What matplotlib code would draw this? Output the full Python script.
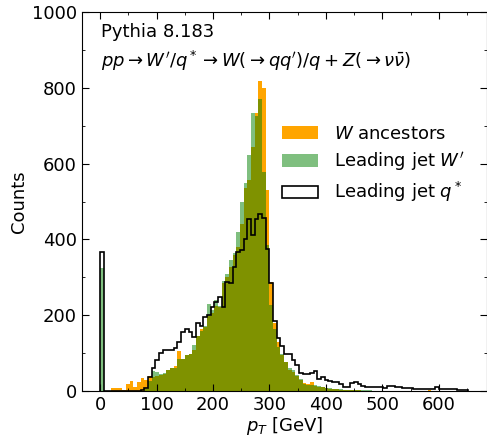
import numpy as np
import matplotlib
matplotlib.use("Agg")
import matplotlib.pyplot as plt
from matplotlib.ticker import MultipleLocator

# ---- data (counts per bin, 100 bins from 0 to 652 GeV) ----
pt_min, pt_max, n_bins = 0.0, 652.0, 100

w_ancestors = [
    0, 0, 0, 8, 8, 8, 3, 18, 27, 11,
    23, 35, 29, 40, 38, 40, 42, 45, 55, 62,
    66, 105, 86, 95, 99, 108, 146, 165, 170, 198,
    205, 225, 222, 284, 300, 328, 359, 381, 442, 535,
    557, 645, 734, 818, 799, 530, 288, 179, 130, 95,
    78, 55, 50, 40, 30, 22, 18, 25, 14, 12,
    10, 8, 7, 5, 5, 4, 3, 3, 2, 2,
    2, 1, 1, 1, 1, 0, 0, 0, 0, 0,
    0, 0, 0, 0, 0, 0, 0, 0, 0, 2,
    0, 0, 0, 0, 0, 0, 0, 0, 0, 0,
]

leading_jet_wprime = [
    325, 0, 0, 0, 0, 0, 0, 0, 0, 0,
    0, 0, 5, 28, 52, 50, 45, 48, 56, 60,
    62, 86, 86, 95, 99, 121, 146, 159, 172, 229,
    215, 240, 225, 290, 310, 347, 365, 420, 498, 548,
    623, 733, 725, 770, 579, 385, 227, 165, 117, 99,
    77, 60, 55, 42, 33, 20, 16, 17, 15, 13,
    10, 9, 8, 6, 6, 5, 4, 4, 4, 3,
    3, 2, 2, 2, 1, 1, 1, 1, 0, 1,
    0, 0, 1, 0, 0, 0, 0, 0, 0, 0,
    0, 0, 0, 0, 0, 0, 0, 0, 0, 0,
]

leading_jet_qstar = [
    368, 0, 0, 0, 0, 0, 0, 0, 0, 0,
    0, 2, 8, 38, 60, 82, 100, 108, 108, 108,
    115, 130, 156, 163, 156, 143, 180, 173, 196, 200,
    222, 236, 249, 222, 288, 286, 328, 368, 372, 400,
    455, 412, 455, 468, 458, 376, 284, 185, 140, 120,
    99, 97, 82, 69, 48, 45, 45, 48, 53, 32,
    38, 29, 26, 23, 25, 20, 11, 12, 22, 25,
    20, 13, 11, 11, 11, 10, 10, 9, 13, 13,
    11, 10, 8, 8, 8, 6, 5, 5, 5, 6,
    7, 10, 6, 5, 6, 5, 6, 4, 3, 2,
]

labels = [r"$W$ ancestors", r"Leading jet $W'$", r"Leading jet $q^*$"]
title_lines = ["Pythia 8.183",
               r"$pp \to W'/q^* \to W(\to qq')/q + Z(\to \nu\bar{\nu})$"]

# ---- plot ----
plt.rcParams["font.family"] = ["DejaVu Sans"]
plt.rcParams["font.size"] = 13

edges = np.linspace(pt_min, pt_max, n_bins + 1)
centers = 0.5 * (edges[:-1] + edges[1:])

fig = plt.figure(figsize=(4.87, 4.45), dpi=100)
ax = fig.add_axes([0.168, 0.121, 0.831, 0.852])

ax.hist(centers, bins=edges, weights=w_ancestors, color="orange",
        label=labels[0])
ax.hist(centers, bins=edges, weights=leading_jet_wprime, color="green",
        alpha=0.5, label=labels[1])
ax.hist(centers, bins=edges, weights=leading_jet_qstar, histtype="step",
        color="black", linewidth=1.2, label=labels[2])

ax.set_xlim(-32.6, 684.6)
ax.set_ylim(0, 1000)
ax.xaxis.set_major_locator(MultipleLocator(100))
ax.xaxis.set_minor_locator(MultipleLocator(50))
ax.yaxis.set_major_locator(MultipleLocator(200))
ax.yaxis.set_minor_locator(MultipleLocator(100))
ax.tick_params(which="both", direction="in", top=True, right=True,
               labelsize=13)
ax.tick_params(which="major", length=5)
ax.tick_params(which="minor", length=2.5)

ax.set_xlabel(r"$p_T$ [GeV]", fontsize=13, labelpad=1)
ax.set_ylabel("Counts", fontsize=13, labelpad=3)

ax.text(0.047, 0.97, title_lines[0], transform=ax.transAxes,
        fontsize=13, va="top", ha="left")
ax.text(0.047, 0.903, title_lines[1], transform=ax.transAxes,
        fontsize=13, va="top", ha="left")

ax.legend(loc="upper right", bbox_to_anchor=(0.985, 0.745), frameon=False,
          fontsize=13, handlelength=2.0, handleheight=0.7,
          handletextpad=0.9, labelspacing=0.4)

fig.savefig("out.png", dpi=100)
